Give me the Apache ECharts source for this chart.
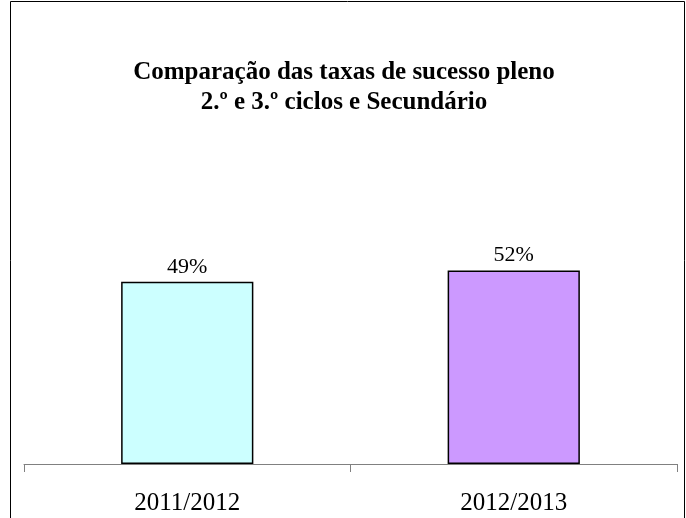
<!DOCTYPE html>
<html>
<head>
<meta charset="utf-8">
<script src="https://cdn.jsdelivr.net/npm/echarts@6/dist/echarts.min.js"></script>
<style>
  html, body { margin: 0; padding: 0; background: #fff; }
  #chart { width: 686px; height: 518px; }
</style>
</head>
<body>
<div id="chart"></div>
<script>
// dados do gráfico
const anos = ['2011/2012', '2012/2013'];
const taxas = [49, 52];
const cores = ['#CCFFFF', '#CC99FF'];

const myChart = echarts.init(document.getElementById('chart'));

const option = {
	animation: false,
	backgroundColor: '#ffffff',
	title: {
		text: 'Comparação das taxas de sucesso pleno\n2.º e 3.º ciclos e Secundário',
		left: 339,
		top: 53,
		textAlign: 'center',
		textStyle: {
			fontFamily: 'Liberation Serif',
			fontWeight: 'bold',
			fontSize: 25,
			lineHeight: 30,
			color: '#000'
		}
	},
	graphic: [{
		type: 'rect',
		shape: { x: 10.5, y: 1.5, width: 674, height: 600 },
		style: { fill: 'none', stroke: '#000', lineWidth: 1 },
		silent: true
	}],
	grid: {
		left: 24,
		right: 9,
		top: 92,
		bottom: 54
	},
	xAxis: {
		type: 'category',
		data: anos,
		axisLine: { lineStyle: { color: '#808080', width: 1 } },
		axisTick: { show: true, length: 8, lineStyle: { color: '#808080' } },
		axisLabel: {
			margin: 27,
			fontFamily: 'Liberation Serif',
			fontSize: 25,
			color: '#000'
		}
	},
	yAxis: {
		type: 'value',
		min: 0,
		max: 100,
		show: false
	},
	series: [{
		type: 'bar',
		barWidth: '40.5%',
		data: taxas.map((v, i) => ({
			value: v,
			itemStyle: { color: cores[i] }
		})),
		itemStyle: {
			borderColor: '#000',
			borderWidth: 1.5
		},
		label: {
			show: true,
			position: 'top',
			distance: 4,
			formatter: '{c}%',
			fontFamily: 'Liberation Serif',
			fontSize: 22,
			color: '#000'
		}
	}]
};

myChart.setOption(option);
</script>
</body>
</html>
